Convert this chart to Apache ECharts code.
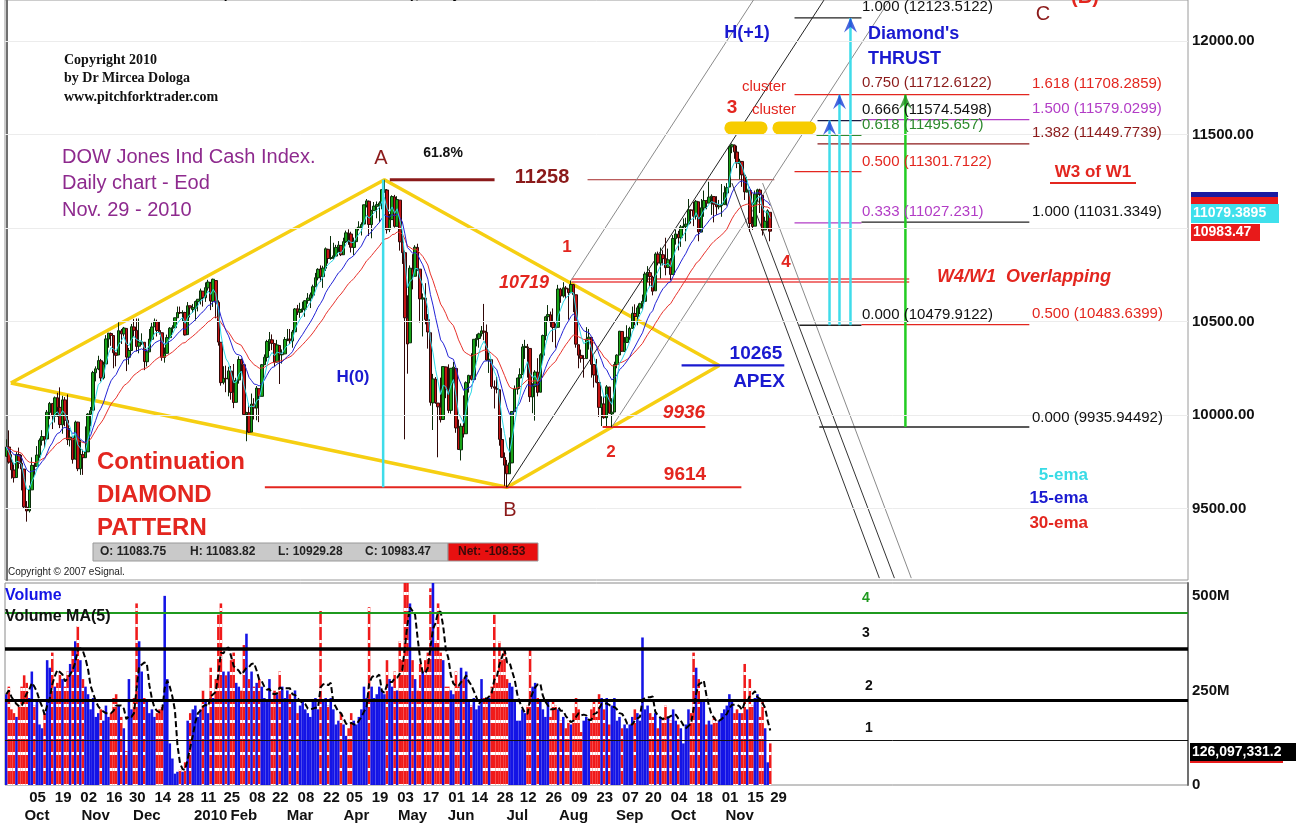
<!DOCTYPE html>
<html><head><meta charset="utf-8">
<script src="https://cdn.jsdelivr.net/npm/echarts@6/dist/echarts.min.js"></script>
<style>html,body{margin:0;padding:0;background:#fff}#c{width:1305px;height:823px}</style>
</head><body><div id="c"></div>
<script>
// ---------- DATA ----------
const START = '2009-09-22';
const HOLIDAYS = ['2009-11-26','2009-12-25','2010-01-01','2010-01-18','2010-02-15','2010-04-02','2010-05-31','2010-07-05','2010-09-06','2010-11-25','2010-12-24','2011-01-17','2011-02-21','2011-04-22','2011-05-30','2011-07-04'];
const TOTAL_SLOTS = 463;
// daily bars [open, high, low, close]
const ohlc = [
// Sep 2009
[9779,9870,9778,9829],[9829,9918,9740,9748],[9748,9790,9660,9707],[9706,9737,9639,9665],[9666,9802,9666,9789],[9789,9826,9714,9742],[9742,9787,9597,9712],
// Oct 2009
[9711,9712,9502,9509],[9508,9540,9430,9487],[9488,9623,9479,9599],[9600,9774,9600,9731],[9731,9744,9676,9725],[9726,9834,9725,9786],[9786,9875,9770,9865],[9865,9919,9837,9885],[9884,9884,9826,9871],[9872,10027,9872,10015],[10013,10070,9978,10062],[10062,10062,9925,9995],[9994,10099,9960,10092],[10092,10119,9990,10041],[10041,10148,9930,9949],[9948,10103,9900,10081],[10081,10096,9940,9972],[9972,10110,9840,9868],[9868,9930,9832,9882],[9881,9885,9740,9762],[9764,9970,9764,9962],[9962,9964,9700,9713],
// Nov 2009
[9713,9867,9680,9789],[9788,9815,9680,9772],[9772,9939,9772,9802],[9803,10010,9803,10005],[10004,10043,9940,10023],[10026,10236,10026,10227],[10226,10260,10180,10247],[10246,10317,10240,10291],[10290,10300,10180,10198],[10198,10285,10190,10271],[10273,10427,10273,10407],[10406,10438,10360,10438],[10436,10441,10370,10426],[10425,10425,10250,10333],[10332,10335,10260,10319],[10321,10496,10321,10451],[10450,10460,10380,10434],[10434,10471,10420,10465],[10463,10463,10235,10310],[10309,10359,10270,10345],
// Dec 2009
[10345,10487,10345,10472],[10471,10514,10420,10453],[10453,10516,10340,10367],[10368,10516,10330,10389],[10386,10437,10375,10391],[10389,10389,10240,10286],[10285,10351,10260,10338],[10338,10460,10338,10406],[10405,10493,10405,10471],[10472,10516,10472,10502],[10500,10510,10420,10452],[10452,10500,10430,10441],[10440,10440,10290,10309],[10308,10361,10280,10329],[10330,10430,10330,10414],[10414,10470,10405,10464],[10464,10480,10440,10467],[10467,10520,10467,10520],[10520,10580,10520,10548],[10548,10580,10540,10546],[10545,10560,10500,10548],[10548,10552,10425,10428],
// Jan 2010
[10430,10604,10430,10584],[10584,10584,10522,10573],[10564,10594,10546,10574],[10571,10612,10505,10607],[10606,10619,10554,10619],[10620,10676,10591,10664],[10662,10662,10580,10628],[10627,10709,10605,10681],[10680,10723,10665,10711],[10706,10712,10561,10610],[10608,10729,10578,10726],[10719,10720,10517,10604],[10603,10613,10371,10390],[10389,10390,10157,10173],[10175,10261,10164,10196],[10196,10264,10122,10194],[10193,10258,10100,10236],[10235,10262,10082,10121],[10122,10273,10037,10067],
// Feb 2010
[10068,10199,10068,10185],[10187,10314,10168,10297],[10296,10302,10233,10271],[10269,10270,9996,10003],[10002,10017,9860,10013],[10012,10061,9904,9908],[9909,10115,9909,10058],[10058,10090,9976,10038],[10037,10155,9972,10144],[10141,10141,9962,10099],[10100,10273,10100,10269],[10269,10324,10267,10309],[10308,10402,10286,10393],[10390,10444,10342,10403],[10402,10431,10347,10383],[10382,10383,10260,10283],[10283,10402,10281,10375],[10372,10373,10166,10322],[10322,10351,10275,10325],
// Mar 2010
[10327,10417,10325,10404],[10405,10460,10395,10406],[10406,10460,10380,10397],[10396,10455,10360,10444],[10445,10572,10445,10567],[10568,10589,10535,10552],[10549,10600,10520,10564],[10563,10606,10549,10568],[10566,10614,10525,10611],[10612,10652,10595,10625],[10624,10655,10572,10643],[10641,10697,10624,10686],[10686,10760,10686,10734],[10733,10785,10720,10779],[10780,10800,10712,10742],[10740,10798,10680,10786],[10785,10896,10770,10889],[10886,10889,10810,10837],[10837,10957,10830,10842],[10842,10921,10830,10851],[10850,10910,10850,10896],[10895,10930,10870,10908],[10907,10907,10850,10857],
// Apr 2010
[10857,10948,10857,10927],[10927,10986,10920,10974],[10972,10993,10910,10970],[10968,10980,10869,10897],[10896,10949,10856,10928],[10927,11000,10925,10998],[10998,11036,10987,11005],[11004,11030,10960,11019],[11021,11125,11021,11124],[11121,11155,11110,11145],[11143,11147,10957,11019],[11018,11097,10945,11092],[11093,11139,11093,11117],[11116,11142,11052,11125],[11122,11143,11030,11134],[11134,11207,11100,11205],[11205,11258,11188,11206],[11203,11208,10970,10991],[10993,11075,10978,11045],[11045,11175,11045,11168],[11166,11177,11002,11009],
// May 2010
[11009,11170,11009,11152],[11149,11149,10879,10926],[10925,10960,10808,10868],[10868,10879,9870,10520],[10519,10640,10221,10380],[10386,10800,10386,10785],[10780,10860,10672,10749],[10742,10908,10742,10897],[10896,10916,10770,10782],[10780,10780,10495,10621],[10620,10650,10420,10626],[10625,10705,10485,10511],[10510,10540,10355,10444],[10440,10440,10050,10068],[10065,10220,9920,10193],[10192,10203,10060,10067],[10064,10064,9774,10044],[10043,10200,9960,9975],[9976,10260,9976,10259],[10257,10259,10090,10137],
// Jun 2010
[10133,10271,10010,10025],[10025,10250,10007,10250],[10248,10284,10170,10256],[10249,10250,9905,9931],[9932,9976,9816,9816],[9814,9955,9757,9940],[9939,10105,9880,9899],[9900,10180,9900,10173],[10171,10215,10120,10212],[10212,10330,10185,10191],[10190,10405,10190,10405],[10403,10432,10367,10410],[10409,10440,10360,10434],[10435,10476,10420,10450],[10449,10594,10400,10443],[10442,10484,10290,10294],[10293,10334,10225,10298],[10296,10297,10140,10152],[10151,10185,10035,10144],[10142,10204,10116,10138],[10135,10135,9836,9870],[9869,9930,9770,9774],
// Jul 2010
[9773,9800,9621,9732],[9732,9760,9614,9686],[9686,9880,9686,9744],[9744,10020,9743,10019],[10018,10158,10018,10139],[10138,10199,10110,10198],[10198,10250,10140,10216],[10217,10380,10217,10364],[10361,10402,10300,10367],[10364,10380,10200,10360],[10356,10356,10070,10098],[10097,10170,10010,10155],[10152,10240,9970,10230],[10229,10304,10100,10121],[10122,10330,10122,10322],[10320,10430,10290,10425],[10424,10530,10400,10525],[10526,10588,10500,10537],[10536,10553,10470,10498],[10497,10570,10390,10468],[10467,10490,10360,10466],
// Aug 2010
[10469,10696,10469,10674],[10673,10680,10600,10636],[10636,10710,10628,10680],[10679,10690,10620,10675],[10674,10675,10510,10654],[10654,10719,10654,10698],[10697,10700,10550,10644],[10643,10643,10360,10379],[10376,10376,10250,10320],[10319,10350,10280,10303],[10302,10320,10200,10302],[10302,10470,10302,10406],[10406,10460,10350,10416],[10415,10415,10200,10271],[10270,10272,10147,10214],[10213,10300,10170,10175],[10174,10174,9990,10041],[10040,10100,9941,10060],[10059,10100,9980,9986],[9986,10160,9941,10151],[10150,10150,10007,10010],[10006,10090,9936,10015],
// Sep 2010
[10016,10285,10016,10270],[10270,10325,10250,10320],[10321,10450,10321,10448],[10447,10447,10338,10341],[10340,10417,10340,10388],[10388,10480,10390,10416],[10415,10472,10400,10463],[10463,10580,10463,10544],[10543,10592,10480,10527],[10526,10585,10480,10573],[10572,10600,10540,10595],[10595,10644,10563,10608],[10608,10766,10607,10754],[10754,10796,10710,10762],[10761,10777,10690,10740],[10738,10745,10640,10662],[10664,10870,10664,10861],[10860,10874,10800,10813],[10812,10895,10730,10858],[10857,10881,10800,10836],[10836,10948,10747,10788],
// Oct 2010
[10789,10890,10789,10830],[10828,10839,10720,10752],[10752,10962,10752,10944],[10943,10992,10911,10968],[10967,10985,10880,10948],[10948,11016,10899,11006],[11006,11051,10994,11010],[11009,11055,10929,11021],[11021,11155,11021,11097],[11096,11099,11024,11095],[11096,11140,11010,11063],[11063,11150,11045,11143],[11140,11140,10929,10979],[10978,11155,10978,11108],[11107,11200,11060,11147],[11146,11150,11100,11133],[11133,11247,11133,11165],[11163,11180,11070,11170],[11168,11168,11030,11127],[11126,11170,11070,11114],[11113,11150,11100,11118],
// Nov 2010
[11120,11235,11060,11125],[11125,11225,11125,11189],[11187,11240,11120,11216],[11219,11440,11219,11434],[11434,11451,11400,11445],[11443,11446,11370,11407],[11406,11440,11320,11347],[11344,11370,11260,11358],[11356,11356,11220,11284],[11283,11290,11150,11193],[11193,11274,11190,11202],[11200,11200,10980,11024],[11022,11060,10990,11008],[11010,11200,11010,11181],[11180,11210,11140,11204],[11203,11210,11080,11179],[11175,11175,10960,10988],[10990,11060,10990,11036],[11035,11100,11000,11092],[11084,11084,10929,10983]
];
// daily volume, millions of shares
const volumeM = [
240,260,200,190,180,210,260,
290,270,230,300,210,220,160,150,190,330,310,350,260,270,300,280,260,300,320,360,380,420,
330,280,260,240,200,230,180,190,200,170,210,180,190,230,240,210,180,150,90,280,
200,230,480,380,300,230,220,190,200,180,190,200,210,500,280,110,70,30,35,40,35,60,
170,190,200,210,180,200,250,220,190,310,230,280,450,480,300,290,300,330,350,
270,260,250,370,400,280,300,260,270,280,260,230,220,280,220,250,240,300,260,
230,250,240,220,250,190,210,220,200,190,180,220,230,200,460,220,230,210,230,200,160,170,190,
160,130,150,190,170,160,180,200,260,230,470,260,230,240,260,250,240,330,280,260,300,
250,380,330,560,600,480,330,280,250,320,300,330,350,520,560,380,480,350,330,260,
260,250,240,300,260,310,280,300,220,210,230,200,210,280,230,220,230,260,450,270,380,330,
360,280,270,260,220,170,170,200,190,210,360,260,270,230,220,200,180,220,180,220,210,
200,170,180,150,170,160,190,230,200,140,170,180,170,200,220,180,240,230,200,230,160,210,
230,170,180,150,160,150,160,180,200,190,170,390,200,210,190,180,190,150,180,170,210,
180,170,200,170,160,150,110,160,200,190,350,310,280,220,220,160,170,160,180,170,170,
190,200,210,240,220,190,200,190,190,320,200,280,210,230,240,180,220,150,60,110
];
const dayTicks = ['2009-10-05','2009-10-19','2009-11-02','2009-11-16','2009-11-30','2009-12-14','2009-12-28','2010-01-11','2010-01-25','2010-02-08','2010-02-22','2010-03-08','2010-03-22','2010-04-05','2010-04-19','2010-05-03','2010-05-17','2010-06-01','2010-06-14','2010-06-28','2010-07-12','2010-07-26','2010-08-09','2010-08-23','2010-09-07','2010-09-20','2010-10-04','2010-10-18','2010-11-01','2010-11-15','2010-11-29'];
const monthLabelDates = ['2009-10-08','2009-11-10','2009-12-09','2010-01-15','2010-02-04','2010-03-09','2010-04-09','2010-05-11','2010-06-08','2010-07-09','2010-08-10','2010-09-10','2010-10-11','2010-11-10'];
const monthLabelTexts = ['Oct','Nov','Dec','2010','Feb','Mar','Apr','May','Jun','Jul','Aug','Sep','Oct','Nov'];
const priceTicks = [9500,10000,10500,11500,12000];
const priceGrid = [9500,10000,10500,11000,11500,12000];
const volTicks = [0,250,500];
const volLevels = [455,360,225,119];
// annotation geometry: [bar index, price]
const diamondPts = [[1.8,10171],[148,11258],[279,10265],[196,9614],[1.8,10171]];
const h0Line = [[147.5,9614],[147.5,11258]];
const line9614 = [[101.2,9614],[287.7,9614]];
const line9936 = [[233.4,9936],[273.6,9936]];
const apexLine = [[264.3,10265],[304.5,10265]];
const band10719 = [[221.3,10727],[353.4,10727],[null,null],[221.3,10711],[353.4,10711]];
const line11258a = [[150.1,11258],[191.1,11258]];
const line11258b = [[227.5,11258],[300.6,11258]];
const pfA = [[221,10719],[300,12378]];
const pfB = [[196,9614],[320,12218]];
const pfC = [[237,9936],[346,12225]];
const dn1 = [[284,11240],[341.7,9128]];
const dn2 = [[289,11240],[347.6,9128]];
const dn3 = [[296,11240],[354.2,9128]];
const clusters = [[[283.6,11535],[295.4,11535]],[[302.4,11535],[314.5,11535]]];
// fib levels [from idx, to idx, price]
const fibLeft = [[308.5,334.7,12123.5122],[317.5,334.7,11574.5498],[317.1,334.7,11495.657],[308.5,334.7,11301.7122],[308.5,334.7,11027.231],[310.4,334.7,10479.9122]];
const fibRight = [[308.5,400.4,11712.6122],[334.7,400.4,11579.0299],[317.5,400.4,11449.7739],[334.7,400.4,11031.3349],[334.7,400.4,10483.6399],[318.2,400.4,9935.94492]];
// thrust arrows [idx, from, to]
const thrust = [[322.2,10480,11575],[326.1,10480,11712],[330.4,10480,12123]];
const thrustGreen = [[351.9,9936,11712]];

// ---------- BUILD ----------
const tradingDays = (function(){const out=[];const hol=new Set(HOLIDAYS);const d=new Date(START+'T00:00:00Z');
  while(out.length<TOTAL_SLOTS){const wd=d.getUTCDay();const s=d.toISOString().slice(0,10);
    if(wd!==0&&wd!==6&&!hol.has(s))out.push(s);d.setUTCDate(d.getUTCDate()+1);}return out;})();
const closes = ohlc.map(r=>r[3]);
function ema(vals,n){const k=2/(n+1);let e=vals[0];return vals.map((v,i)=>{e=i?v*k+e*(1-k):v;return +e.toFixed(2);});}
const ma5 = volumeM.map((v,i)=>{const s=volumeM.slice(Math.max(0,i-4),i+1);return +(s.reduce((a,b)=>a+b,0)/s.length).toFixed(1);});
const dayTickSet = new Set(dayTicks);
const monthMap = {}; monthLabelDates.forEach((d,i)=>monthMap[d]=monthLabelTexts[i]);

const F = '"Liberation Sans", Arial, sans-serif';
const stripe = {symbol:'rect',symbolSize:1,dashArrayX:[1,0],dashArrayY:[3,13],color:'#ffffff',rotation:0};

function seg(data,color,width,extra){return Object.assign({type:'line',xAxisIndex:1,yAxisIndex:0,data:data,symbol:'none',silent:true,
  connectNulls:false,lineStyle:{color:color,width:width},z:3},extra||{});}

const series = [];
series.push({type:'candlestick',xAxisIndex:0,yAxisIndex:0,data:ohlc.map(r=>[r[0],r[3],r[2],r[1]]),barWidth:3,z:4,
  itemStyle:{color:'#17a317',color0:'#c41414',borderColor:'#0a2e0a',borderColor0:'#300808',borderWidth:1}});
series.push({type:'line',xAxisIndex:0,yAxisIndex:0,data:ema(closes,30),symbol:'none',lineStyle:{color:'#e8322c',width:1},z:5});
series.push({type:'line',xAxisIndex:0,yAxisIndex:0,data:ema(closes,15),symbol:'none',lineStyle:{color:'#2323d6',width:1},z:5});
series.push({type:'line',xAxisIndex:0,yAxisIndex:0,data:ema(closes,5),symbol:'none',lineStyle:{color:'#2fd9e6',width:1},z:5});
// faint grid + diamond
series.push(seg(diamondPts,'#f6cf12',3.5,{z:2,markLine:{silent:true,symbol:'none',label:{show:false},
  lineStyle:{color:'#ececec',width:1,type:'solid'},data:priceGrid.map(v=>({yAxis:v}))}}));
series.push(seg(h0Line,'#3fdcea',2.5,{z:6}));
series.push(seg(line9614,'#e3261f',2.2));
series.push(seg(line9936,'#e3261f',2.2));
series.push(seg(apexLine,'#1a1ad0',2.2));
series.push(seg(band10719,'#ec4a4a',1.5));
series.push(seg(line11258a,'#8b1a1a',3));
series.push(seg(line11258b,'#a52a2a',1));
series.push(seg(pfA,'#8a8a8a',1));
series.push(seg(pfB,'#222222',1));
series.push(seg(pfC,'#8a8a8a',1));
series.push(seg(dn1,'#333333',1));
series.push(seg(dn2,'#333333',1));
series.push(seg(dn3,'#8a8a8a',1));
clusters.forEach(c=>series.push(seg(c,'#f7cc00',13,{lineStyle:{color:'#f7cc00',width:13,cap:'round'}})));
const leftColors = ['#222','#1a1a40','#2e8b2e','#e3261f','#b23cc6','#222'];
const rightColors = ['#e3261f','#b23cc6','#8b1a1a','#222','#e3261f','#222'];
fibLeft.forEach((f,i)=>series.push(seg([[f[0],f[2]],[f[1],f[2]]],leftColors[i],1.3)));
fibRight.forEach((f,i)=>series.push(seg([[f[0],f[2]],[f[1],f[2]]],rightColors[i],1.3)));
thrust.forEach(t=>series.push(seg([[t[0],t[1]],[t[0],t[2]]],'#3fdcea',2.5)));
thrustGreen.forEach(t=>series.push(seg([[t[0],t[1]],[t[0],t[2]]],'#22cc22',2.5)));
const chevron = 'path://M5,0 L10,11 L5,7 L0,11 Z';
series.push({type:'scatter',xAxisIndex:1,yAxisIndex:0,silent:true,symbol:chevron,symbolSize:[13,15],symbolOffset:[0,7],z:7,
  itemStyle:{color:'#1c3fd6'},data:thrust.map(t=>[t[0],t[2]])});
series.push({type:'scatter',xAxisIndex:1,yAxisIndex:0,silent:true,symbol:chevron,symbolSize:[13,15],symbolOffset:[0,7],z:7,
  itemStyle:{color:'#1f8f1f'},data:thrustGreen.map(t=>[t[0],t[2]])});
// volume
series.push({type:'bar',xAxisIndex:2,yAxisIndex:1,barCategoryGap:'0%',z:2,
  data:volumeM.map((v,i)=>{const up=ohlc[i][3]>=ohlc[i][0];
    return {value:v,itemStyle:up?{color:'#1414e6'}:{color:'#f01a1a',decal:stripe}};})});
series.push({type:'line',xAxisIndex:2,yAxisIndex:1,data:ma5,symbol:'none',z:4,
  lineStyle:{color:'#000',width:2,type:[6,3]},
  markLine:{silent:true,symbol:'none',label:{show:false},data:[
    {yAxis:volLevels[0],lineStyle:{color:'#1f9a1f',width:2,type:'solid'}},
    {yAxis:volLevels[1],lineStyle:{color:'#000',width:3.5,type:'solid'}},
    {yAxis:volLevels[2],lineStyle:{color:'#000',width:3,type:'solid'}},
    {yAxis:volLevels[3],lineStyle:{color:'#111',width:1,type:'solid'}}]}});

// ---------- TEXT ----------
function T(text,x,y,color,font,align){return {type:'text',x:x,y:y,z:50,silent:true,
  style:{text:text,fill:color,font:font,align:align||'left',verticalAlign:'middle'}};}
const B = 'bold ';
const g = [];
g.push(T('$INDU-DJ  (DOW JONES INDUSTRIALS),  Daily',150,-6,'#000',B+'14px '+F));
g.push(T('Copyright 2010',64,60,'#111','bold 14px "Liberation Serif", serif'));
g.push(T('by Dr Mircea Dologa',64,78,'#111','bold 14px "Liberation Serif", serif'));
g.push(T('www.pitchforktrader.com',64,97,'#111','bold 14px "Liberation Serif", serif'));
g.push(T('DOW Jones Ind Cash Index.',62,157,'#8e2a8e','20px '+F));
g.push(T('Daily chart - Eod',62,183,'#8e2a8e','20px '+F));
g.push(T('Nov. 29 - 2010',62,210,'#8e2a8e','20px '+F));
g.push(T('A',381,158,'#8b1a1a','20px '+F,'center'));
g.push(T('61.8%',443,153,'#111',B+'14px '+F,'center'));
g.push(T('11258',542,177,'#8b1a1a',B+'20px '+F,'center'));
g.push(T('1',567,247,'#e3261f',B+'17px '+F,'center'));
g.push(T('10719',524,283,'#e3261f','italic bold 18px '+F,'center'));
g.push(T('H(0)',353,377,'#1a1ad0',B+'17px '+F,'center'));
g.push(T('10265',756,354,'#1a1ad0',B+'19px '+F,'center'));
g.push(T('APEX',759,382,'#1a1ad0',B+'19px '+F,'center'));
g.push(T('9936',684,413,'#e3261f','italic bold 19px '+F,'center'));
g.push(T('2',611,452,'#e3261f',B+'17px '+F,'center'));
g.push(T('9614',685,475,'#e3261f',B+'19px '+F,'center'));
g.push(T('B',510,510,'#8b1a1a','20px '+F,'center'));
g.push(T('Continuation',97,462,'#e3261f',B+'24px '+F));
g.push(T('DIAMOND',97,495,'#e3261f',B+'24px '+F));
g.push(T('PATTERN',97,528,'#e3261f',B+'24px '+F));
g.push(T('H(+1)',747,33,'#1a1ad0',B+'18px '+F,'center'));
g.push(T('Diamond\'s',868,34,'#1a1ad0',B+'18px '+F));
g.push(T('THRUST',868,59,'#1a1ad0',B+'18px '+F));
g.push(T('cluster',764,87,'#e3261f','15px '+F,'center'));
g.push(T('3',732,108,'#e3261f',B+'19px '+F,'center'));
g.push(T('cluster',774,110,'#e3261f','15px '+F,'center'));
g.push(T('4',786,262,'#e3261f',B+'17px '+F,'center'));
const fibFont = '15px '+F;
g.push(T('1.000 (12123.5122)',862,7,'#111',fibFont));
g.push(T('0.750 (11712.6122)',862,83,'#8b1a1a',fibFont));
g.push(T('0.666 (11574.5498)',862,110,'#111',fibFont));
g.push(T('0.618 (11495.657)',862,125,'#2e8b2e',fibFont));
g.push(T('0.500 (11301.7122)',862,162,'#e3261f',fibFont));
g.push(T('0.333 (11027.231)',862,212,'#b23cc6',fibFont));
g.push(T('0.000 (10479.9122)',862,315,'#111',fibFont));
g.push(T('1.618 (11708.2859)',1032,84,'#e3261f',fibFont));
g.push(T('1.500 (11579.0299)',1032,109,'#b23cc6',fibFont));
g.push(T('1.382 (11449.7739)',1032,133,'#8b1a1a',fibFont));
g.push(T('1.000 (11031.3349)',1032,212,'#111',fibFont));
g.push(T('0.500 (10483.6399)',1032,314,'#e3261f',fibFont));
g.push(T('0.000 (9935.94492)',1032,418,'#111',fibFont));
g.push(T('C',1043,14,'#8b1a1a','20px '+F,'center'));
g.push(T('(B)',1085,-3,'#e3261f',B+'20px '+F,'center'));
g.push(T('W3 of W1',1093,172,'#e3261f',B+'17px '+F,'center'));
g.push({type:'line',z:50,silent:true,shape:{x1:1050,y1:183,x2:1136,y2:183},style:{stroke:'#e3261f',lineWidth:2}});
g.push(T('W4/W1  Overlapping',937,277,'#e3261f','italic bold 18px '+F));
g.push(T('5-ema',1088,475,'#39dbe6',B+'17px '+F,'right'));
g.push(T('15-ema',1088,498,'#1a1ad0',B+'17px '+F,'right'));
g.push(T('30-ema',1088,523,'#e3261f',B+'17px '+F,'right'));
// OHLC strip
g.push({type:'rect',z:49,silent:true,shape:{x:93,y:543,width:355,height:18},style:{fill:'#c9c9c9',stroke:'#999',lineWidth:1}});
g.push({type:'rect',z:49,silent:true,shape:{x:448,y:543,width:90,height:18},style:{fill:'#e81010',stroke:'#999',lineWidth:1}});
g.push(T('O: 11083.75',100,552,'#222',B+'12px '+F));
g.push(T('H: 11083.82',190,552,'#222',B+'12px '+F));
g.push(T('L: 10929.28',278,552,'#222',B+'12px '+F));
g.push(T('C: 10983.47',365,552,'#222',B+'12px '+F));
g.push(T('Net: -108.53',458,552,'#3a0a0a',B+'12px '+F));
g.push(T('Copyright \u00a9 2007 eSignal.',8,572,'#222','10px '+F));
// volume titles
g.push(T('Volume',5,596,'#1414e6',B+'16px '+F));
g.push(T('Volume MA(5)',5,617,'#111',B+'16px '+F));
g.push(T('4',862,598,'#1f9a1f',B+'14px '+F));
g.push(T('3',862,633,'#111',B+'14px '+F));
g.push(T('2',865,686,'#111',B+'14px '+F));
g.push(T('1',865,728,'#111',B+'14px '+F));
// right tags
g.push({type:'rect',z:49,silent:true,shape:{x:1191,y:192,width:87,height:5},style:{fill:'#1a1aa0'}});
g.push({type:'rect',z:49,silent:true,shape:{x:1191,y:197,width:87,height:8},style:{fill:'#e81a1a'}});
g.push({type:'rect',z:49,silent:true,shape:{x:1191,y:204,width:88,height:19},style:{fill:'#3fe0ec'}});
g.push(T('11079.3895',1193,213.5,'#fff',B+'14px '+F));
g.push({type:'rect',z:49,silent:true,shape:{x:1191,y:224,width:69,height:17},style:{fill:'#e81a1a'}});
g.push(T('10983.47',1193,232.5,'#fff',B+'14px '+F));
g.push({type:'rect',z:49,silent:true,shape:{x:1190,y:743,width:106,height:18},style:{fill:'#000'}});
g.push({type:'rect',z:49,silent:true,shape:{x:1190,y:761,width:93,height:2},style:{fill:'#e81a1a'}});
g.push(T('126,097,331.2',1192,752,'#fff',B+'14px '+F));

const labelFont = {fontFamily:F,fontWeight:'bold',fontSize:15,color:'#111'};
const option = {
  animation:false,backgroundColor:'#ffffff',
  grid:[{left:5,right:117,top:0,height:580,show:true,borderColor:'#9a9a9a',borderWidth:1},
        {left:5,right:117,top:583,height:202,show:true,borderColor:'#8a8a8a',borderWidth:1}],
  xAxis:[
    {type:'category',gridIndex:0,data:tradingDays,boundaryGap:true,axisLine:{show:false},axisTick:{show:false},axisLabel:{show:false},splitLine:{show:false}},
    {type:'value',gridIndex:0,min:-0.5,max:TOTAL_SLOTS-0.5,show:false},
    {type:'category',gridIndex:1,data:tradingDays,boundaryGap:true,position:'bottom',axisLine:{show:false},axisTick:{show:false},
      axisLabel:Object.assign({interval:(i,v)=>dayTickSet.has(v),formatter:v=>v.slice(8,10),align:'left',margin:5},labelFont)},
    {type:'category',gridIndex:1,data:tradingDays,boundaryGap:true,position:'bottom',offset:18,axisLine:{show:false},axisTick:{show:false},
      axisLabel:Object.assign({interval:(i,v)=>monthMap[v]!==undefined,formatter:v=>monthMap[v]||'',align:'center',margin:5},labelFont)}
  ],
  yAxis:[
    {type:'value',gridIndex:0,position:'right',min:9118,max:12219,scale:true,splitLine:{show:false},axisTick:{show:false},
      axisLine:{show:true,lineStyle:{color:'#707070',width:2}},
      axisLabel:Object.assign({customValues:priceTicks,formatter:v=>v.toFixed(2),margin:4},labelFont)},
    {type:'value',gridIndex:1,position:'right',min:0,max:534,splitLine:{show:false},axisTick:{show:false},
      axisLine:{show:true,lineStyle:{color:'#707070',width:2}},
      axisLabel:Object.assign({customValues:volTicks,formatter:v=>v===0?'0':v+'M',margin:4},labelFont)}
  ],
  series:series,
  graphic:{elements:g}
};
const chart = echarts.init(document.getElementById('c'),null,{renderer:'canvas'});
chart.setOption(option);
</script></body></html>
